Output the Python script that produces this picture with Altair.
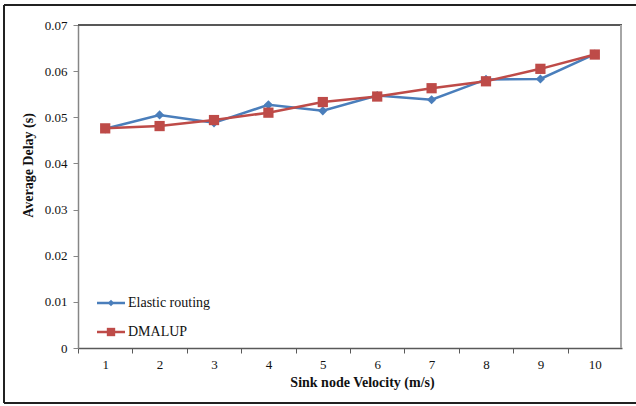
import altair as alt
import pandas as pd

# Sink node velocity (m/s) and average delay (s) for each routing scheme
velocity = [1, 2, 3, 4, 5, 6, 7, 8, 9, 10]
elastic_delay = [0.0475, 0.0505, 0.0488, 0.0527, 0.0514, 0.0547, 0.0538, 0.0582, 0.0583, 0.0637]
dmalup_delay = [0.0476, 0.0481, 0.0494, 0.0510, 0.0533, 0.0545, 0.0563, 0.0578, 0.0605, 0.0636]
y_ticks = [0, 0.01, 0.02, 0.03, 0.04, 0.05, 0.06, 0.07]

series_names = ["Elastic routing", "DMALUP"]
series_colors = ["#4a7ebb", "#be4b48"]
series_shapes = ["diamond", "square"]
series_sizes = [85, 105]

W, H = 544, 323
FONT = "Liberation Serif"

frames = []
for name, vals in zip(series_names, [elastic_delay, dmalup_delay]):
    frames.append(pd.DataFrame({"velocity": velocity, "delay": vals, "series": name}))
df = pd.concat(frames, ignore_index=True)

x_enc = alt.X(
    "velocity:Q",
    scale=alt.Scale(domain=[0.5, 10.5], nice=False, zero=False),
    axis=alt.Axis(
        values=velocity,
        title="Sink node Velocity (m/s)",
        grid=False,
        tickSize=5,
        tickOffset=-W / 20,
        labelOffset=W / 20,
        labelPadding=5,
        domainColor="#595959",
        tickColor="#595959",
        titleX=284,
        titleY=34,
        titleBaseline="middle",
        titleAlign="center",
    ),
)
y_enc = alt.Y(
    "delay:Q",
    scale=alt.Scale(domain=[0, 0.07], nice=False),
    axis=alt.Axis(
        values=y_ticks,
        title="Average Delay (s)",
        grid=False,
        tickSize=5,
        labelPadding=6,
        labelExpr="datum.value == 0 ? '0' : format(datum.value, '.2f')",
        domainColor="#868686",
        tickColor="#868686",
        titleX=-50,
        titleY=140,
        titleBaseline="middle",
        titleAlign="center",
    ),
)

layers = []
for name, color, shape, size in zip(series_names, series_colors, series_shapes, series_sizes):
    sub = df[df["series"] == name]
    layers.append(
        alt.Chart(sub).mark_line(color=color, strokeWidth=2.5).encode(x=x_enc, y=y_enc)
    )
    layers.append(
        alt.Chart(sub)
        .mark_point(shape=shape, filled=True, color=color, size=size, opacity=1)
        .encode(x=x_enc, y=y_enc)
    )

# Plot-area border: dark top edge, light right edge
border = [
    alt.Chart(df).mark_rule(color="#595959", strokeWidth=1.2).encode(
        x=alt.value(0), x2=alt.value(W), y=alt.value(0)
    ),
    alt.Chart(df).mark_rule(color="#a6a6a6", strokeWidth=2).encode(
        x=alt.value(W - 1), y=alt.value(0), y2=alt.value(H)
    ),
]

# Outer chart frame
frame = [
    alt.Chart(df).mark_rule(color="#222222", strokeWidth=1.5).encode(
        x=alt.value(-74), x2=alt.value(560), y=alt.value(-20)
    ),
    alt.Chart(df).mark_rule(color="#222222", strokeWidth=1.5).encode(
        x=alt.value(-74), y=alt.value(-20), y2=alt.value(378)
    ),
    alt.Chart(df).mark_rule(color="#222222", strokeWidth=1.5).encode(
        x=alt.value(-74), x2=alt.value(560), y=alt.value(378)
    ),
]

# In-plot legend: line with marker, then series name
legend = []
for i, (name, color, shape) in enumerate(zip(series_names, series_colors, series_shapes)):
    ly = 278 + 29 * i
    entry = pd.DataFrame({"series": [name]})
    legend.append(
        alt.Chart(entry).mark_rule(color=color, strokeWidth=2.5).encode(
            x=alt.value(19), x2=alt.value(47), y=alt.value(ly)
        )
    )
    legend.append(
        alt.Chart(entry)
        .mark_point(shape=shape, filled=True, color=color, size=40 if shape == "diamond" else 70, opacity=1)
        .encode(x=alt.value(33), y=alt.value(ly))
    )
    legend.append(
        alt.Chart(entry)
        .mark_text(align="left", baseline="middle", font=FONT, fontSize=14, color="#111111")
        .encode(x=alt.value(50), y=alt.value(ly), text="series:N")
    )

chart = (
    alt.layer(*frame, *border, *layers, *legend)
    .properties(
        width=W,
        height=H,
        padding={"left": 78, "top": 25, "right": 14, "bottom": 58},
        autosize=alt.AutoSizeParams(type="none"),
        background="white",
    )
    .configure_view(stroke=None)
    .configure_axis(
        labelFont=FONT,
        labelFontSize=13,
        labelColor="#111111",
        titleFont=FONT,
        titleFontSize=14,
        titleFontWeight="bold",
        titleColor="#111111",
        domainWidth=1.5,
    )
)

chart.save("out.html", embed_options={"renderer": "svg", "actions": False})
